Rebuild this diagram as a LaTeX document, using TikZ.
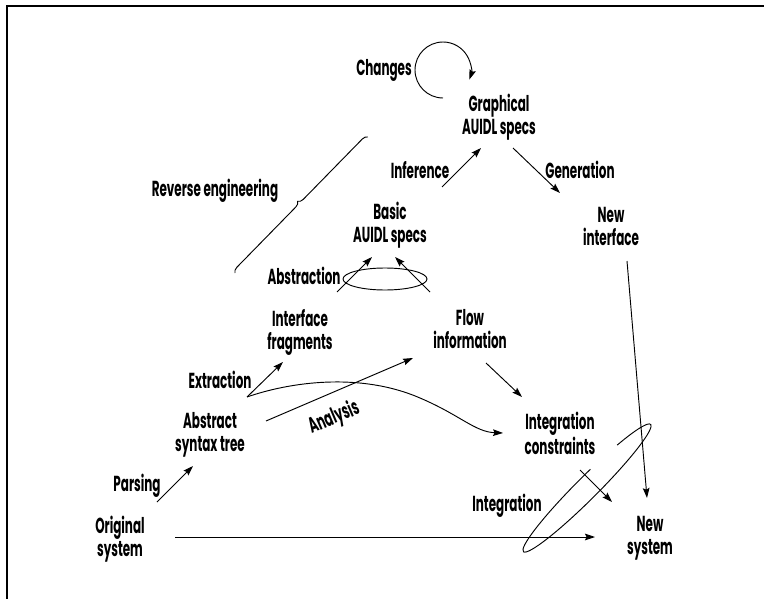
\documentclass[tikz,border=0pt]{standalone}
\usepackage{fontspec}
\setmainfont{Poppins}[FakeStretch=0.55]
\usetikzlibrary{arrows.meta,decorations.pathreplacing}

\begin{document}
\begin{tikzpicture}[x=0.75pt,y=0.75pt,
  lbl/.style={font=\fontsize{16.3}{17.25}\selectfont\bfseries, align=center, inner sep=0pt, anchor=north},
  conn/.style={line width=0.7pt, -{Stealth[length=7.5pt,width=5pt,inset=1.2pt]}},
  plainline/.style={line width=0.7pt},
  framerule/.style={line width=1.4pt}]

\useasboundingbox (0,0) rectangle (764,-599);

% page frame (top and left rules)
\draw[framerule] (7,-599) -- (7,-6) -- (764,-6);

% ---- nodes ----
\node[lbl] (changes)    at (384,-59)  {Changes};
\node[lbl] (graph)      at (499,-94)  {Graphical\\AUIDL specs};
\node[lbl] (inference)  at (420,-161) {Inference};
\node[lbl] (generation) at (580,-161) {Generation};
\node[lbl] (reverse)    at (215,-179) {Reverse engineering};
\node[lbl] (basic)      at (390,-202) {Basic\\AUIDL specs};
\node[lbl] (newint)     at (611,-207) {New\\interface};
\node[lbl] (abstraction) at (304,-267) {Abstraction};
\node[lbl] (interface)  at (300,-309) {Interface\\fragments};
\node[lbl] (flow)       at (470,-309) {Flow\\information};
\node[lbl] (extraction) at (220,-371) {Extraction};
\node[lbl] (ast)        at (210,-412) {Abstract\\syntax tree};
\node[lbl] (ic)         at (560,-412) {Integration\\constraints};
\node[lbl] (parsing)    at (137,-474) {Parsing};
\node[lbl] (integration) at (507,-494) {Integration};
\node[lbl] (orig)       at (120,-516) {Original\\system};
\node[lbl] (newsys)     at (650,-516) {New\\system};
\node[lbl, anchor=center, rotate=23] (analysis) at (334,-418) {Analysis};

% ---- connector end points ----
\coordinate (orig-out)   at (157,-502);
\coordinate (ast-in)     at (193,-466);
\coordinate (ast-out)    at (247,-397);
\coordinate (ast-out2)   at (266,-421);
\coordinate (interface-in) at (283,-362);
\coordinate (flow-in)    at (413,-358);
\coordinate (flow-out)   at (486,-363);
\coordinate (ic-in)      at (522,-397);
\coordinate (ic-in2)     at (503,-433);
\coordinate (ic-out)     at (580,-470);
\coordinate (interface-out) at (337,-292);
\coordinate (flow-out2)  at (430,-292);
\coordinate (basic-inL)  at (372,-257);
\coordinate (basic-inR)  at (395,-257);
\coordinate (basic-out)  at (442,-187);
\coordinate (graph-in)   at (481,-148);
\coordinate (graph-out)  at (513,-148);
\coordinate (newint-in)  at (560,-193);
\coordinate (newint-out) at (627,-261);
\coordinate (newsys-in)  at (647,-498);
\coordinate (orig-out2)  at (175,-537);
\coordinate (newsys-in2) at (595,-537);
\coordinate (newsys-in3) at (612,-502);

% ---- connectors ----
\draw[conn] (orig-out) -- (ast-in);
\draw[conn] (ast-out) -- (interface-in);
\draw[conn] (ast-out2) -- (flow-in);
\draw[conn] (ast-out) .. controls (290,-382) and (360,-372) .. (420,-398)
                      .. controls (460,-415) and (475,-432) .. (ic-in2);
\draw[conn] (flow-out) -- (ic-in);
\draw[conn] (interface-out) -- (basic-inL);
\draw[conn] (flow-out2) -- (basic-inR);
\draw[conn] (basic-out) -- (graph-in);
\draw[conn] (graph-out) -- (newint-in);
\draw[conn] (newint-out) -- (newsys-in);
\draw[conn] (orig-out2) -- (newsys-in2);
\draw[conn] (ic-out) -- (newsys-in3);

% self loop for the Changes step
\draw[conn] (443,-98) arc[start angle=270, end angle=-20, radius=28];

% grouping marks
\draw[plainline] (385,-279) ellipse[x radius=42, y radius=11];
\begin{scope}[shift={(587,-488)}, rotate=45]
  \draw[plainline] (80:90 and 11) arc[start angle=80, end angle=415, x radius=90, y radius=11];
\end{scope}

% brace for the reverse engineering stage
\draw[plainline, decorate, decoration={brace, amplitude=4pt}] (235,-273) -- (368,-137);

\end{tikzpicture}
\end{document}
